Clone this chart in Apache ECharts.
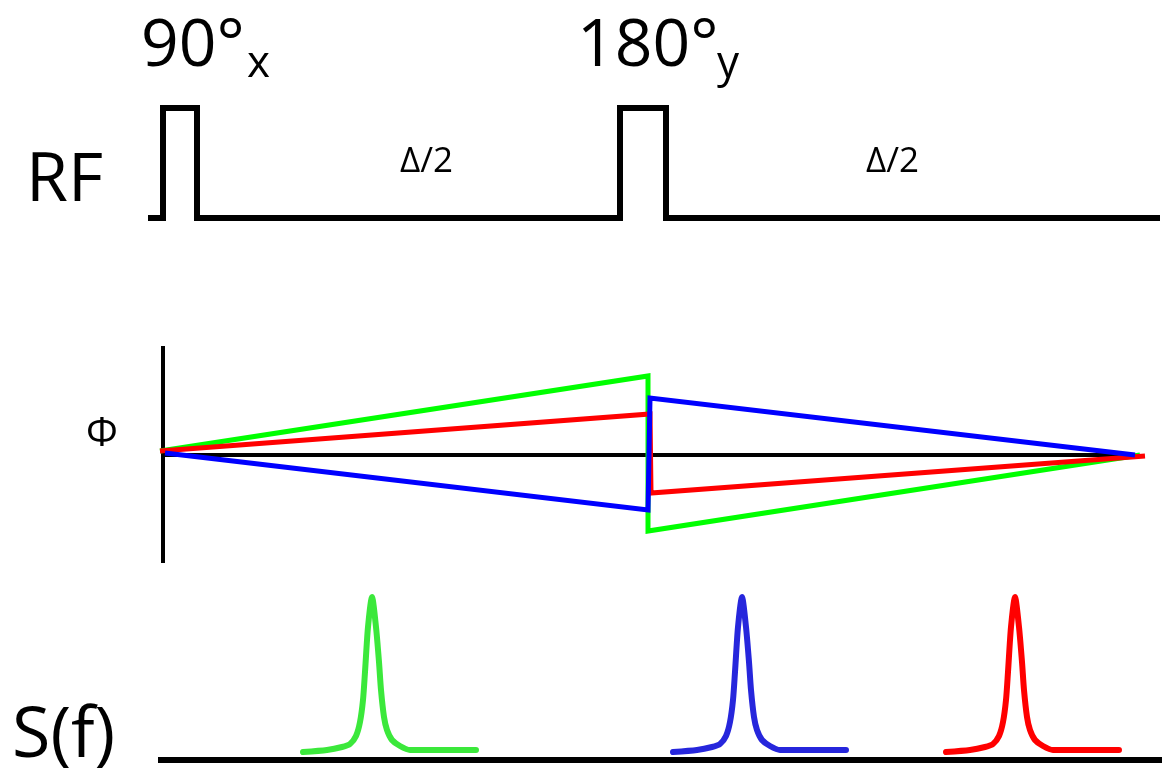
<!DOCTYPE html>
<html>
<head>
<meta charset="utf-8">
<script src="https://cdn.jsdelivr.net/npm/echarts@6/dist/echarts.min.js"></script>
<style>
  html, body { margin: 0; padding: 0; background: #fff; }
  #main { width: 1164px; height: 773px; }
</style>
</head>
<body>
<div id="main"></div>
<script>
// 数据：坐标单位就是画面里的位置（x 向右，y 向下）
// RF 脉冲序列
var rfX = [148, 163, 163, 197, 197, 620, 620, 666, 666, 1160];
var rfY = [218, 218, 108, 108, 218, 218, 108, 108, 218, 218];

// 相位 Φ 的轴
var phiAxisX = [163, 163];
var phiAxisY = [346, 563];
var phiBaseX = [163, 1135];
var phiBaseY = [455, 455];

// 三条相位线
var greenX = [160, 648, 648, 1140];
var greenY = [451, 376, 531, 455];
var redX = [160, 650, 651, 1145];
var redY = [451, 414, 493, 456];
var blueX = [165, 648, 650, 1135];
var blueY = [453, 510, 398, 455];

// 频谱峰：相对峰中心的偏移 和 高度
var peakDx = [-69, -45, -30, -22, -16, -12, -9, -7, -4, 0, 4, 7, 9, 12, 15, 20, 28, 38, 104];
var peakH = [0, 2, 5, 8, 16, 30, 52, 80, 125, 155, 125, 90, 62, 35, 22, 12, 6, 2, 2];
var peakCenters = [372, 742, 1015];
var peakColors = ['#3be83b', '#2626dc', '#ff0000'];
var peakBase = 752;

// 频谱基线
var specBaseX = [158, 1162];
var specBaseY = [760, 760];

function pairs(xs, ys) {
    var arr = [];
    xs.forEach(function (x, i) { arr.push([x, ys[i]]); });
    return arr;
}

function lineSeries(data, color, width, smooth) {
    return {
        type: 'line',
        data: data,
        symbol: 'none',
        smooth: smooth || false,
        animation: false,
        lineStyle: { color: color, width: width, cap: 'butt', join: 'miter' }
    };
}

var series = [];
series.push(lineSeries(pairs(rfX, rfY), '#000', 6));
series.push(lineSeries(pairs(phiAxisX, phiAxisY), '#000', 4));
series.push(lineSeries(pairs(phiBaseX, phiBaseY), '#000', 4));
series.push(lineSeries(pairs(greenX, greenY), '#00ff00', 5));
series.push(lineSeries(pairs(redX, redY), '#ff0000', 5));
series.push(lineSeries(pairs(blueX, blueY), '#0000ff', 5));
series.push(lineSeries(pairs(specBaseX, specBaseY), '#000', 6));

peakCenters.forEach(function (c, k) {
    var d = [];
    peakDx.forEach(function (dx, i) {
        d.push([c + dx, peakBase - peakH[i]]);
    });
    var s = lineSeries(d, peakColors[k], 6, 0.25);
    s.lineStyle.cap = 'round';
    s.lineStyle.join = 'round';
    series.push(s);
});

var font = '"Open Sans", "DejaVu Sans", sans-serif';
function txt(x, y, text, size) {
    return {
        type: 'text', x: x, y: y,
        style: { text: text, font: 'normal ' + size + 'px ' + font, fill: '#000' }
    };
}

var option = {
    animation: false,
    backgroundColor: '#fff',
    grid: { left: 0, right: 0, top: 0, bottom: 0 },
    xAxis: { type: 'value', min: 0, max: 1164, show: false },
    yAxis: { type: 'value', min: 0, max: 773, inverse: true, show: false },
    series: series,
    graphic: [
        txt(141, 14, '90°', 66),
        txt(247, 42, 'x', 44),
        txt(577, 14, '180°', 66),
        txt(717, 42, 'y', 44),
        txt(26, 148, 'RF', 68),
        txt(400, 145, 'Δ/2', 35),
        txt(866, 145, 'Δ/2', 35),
        txt(86, 415, 'Φ', 40),
        txt(12, 702, 'S(f)', 70)
    ]
};

var myChart = echarts.init(document.getElementById('main'));
myChart.setOption(option);
</script>
</body>
</html>
